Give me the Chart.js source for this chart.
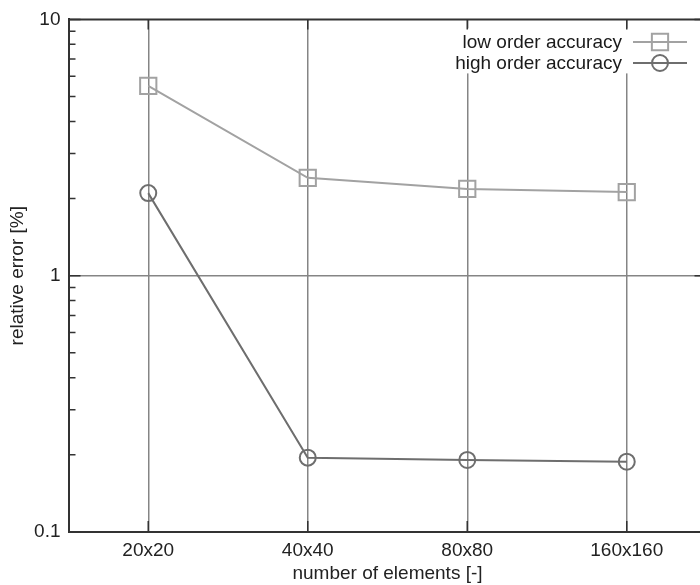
<!DOCTYPE html>
<html>
<head>
<meta charset="utf-8">
<script src="https://cdn.jsdelivr.net/npm/chart.js@4.4.0/dist/chart.umd.min.js"></script>
<style>
  html, body { margin: 0; padding: 0; background: #fff; overflow: hidden; width: 700px; height: 585px; }
  #wrap { position: relative; width: 720px; height: 585px; }
</style>
</head>
<body>
<div id="wrap"><canvas id="c" width="720" height="585"></canvas></div>
<script>
const categories = ['20x20', '40x40', '80x80', '160x160'];
const lowOrder = [5.5, 2.41, 2.18, 2.12];
const highOrder = [2.10, 0.195, 0.191, 0.188];
const seriesNames = ['low order accuracy', 'high order accuracy'];
const yDecades = [0.1, 1, 10];
const xTitle = 'number of elements [-]';
const yTitle = 'relative error [%]';

const FONT = "'Liberation Sans', Arial, Helvetica, sans-serif";
const FS = 19;
const AXIS = '#333333';
const GRID = '#858585';

// tick values: decades plus 2..9 minors
const yTickValues = [];
for (let i = 0; i < yDecades.length; i++) {
  yTickValues.push(yDecades[i]);
  if (i < yDecades.length - 1) {
    for (let m = 2; m <= 9; m++) yTickValues.push(+(yDecades[i] * m).toPrecision(3));
  }
}
const isDecade = v => yDecades.some(d => Math.abs(d - v) < 1e-9);

const framePlugin = {
  id: 'frame',
  afterDatasetsDraw(chart) {
    const ctx = chart.ctx;
    const a = chart.chartArea;
    // legend background
    ctx.save();
    ctx.fillStyle = '#ffffff';
    ctx.fillRect(455, a.top + 9, a.right - 455, 45);
    // legend entries
    ctx.font = FS + 'px ' + FONT;
    ctx.textAlign = 'right';
    ctx.textBaseline = 'middle';
    const rows = [42, 63];
    chart.data.datasets.forEach((ds, i) => {
      const y = rows[i];
      ctx.fillStyle = '#1a1a1a';
      ctx.fillText(ds.label, 622, y + 1);
      ctx.strokeStyle = ds.borderColor;
      ctx.lineWidth = ds.borderWidth;
      ctx.beginPath();
      ctx.moveTo(633, y);
      ctx.lineTo(687, y);
      ctx.stroke();
      ctx.lineWidth = ds.pointBorderWidth;
      ctx.fillStyle = 'rgba(0,0,0,0)';
      Chart.helpers.drawPoint(ctx, {pointStyle: ds.pointStyle, rotation: 0, radius: ds.pointRadius, borderWidth: ds.pointBorderWidth}, 660, y);
    });
    ctx.restore();
  },
  afterDraw(chart) {
    const ctx = chart.ctx;
    const a = chart.chartArea;
    const xs = chart.scales.x, ys = chart.scales.y;
    ctx.save();
    ctx.strokeStyle = AXIS;
    ctx.lineWidth = 2;
    // top & right border
    ctx.beginPath();
    ctx.moveTo(a.left, a.top);
    ctx.lineTo(a.right, a.top);
    ctx.lineTo(a.right, a.bottom);
    ctx.stroke();
    // x ticks inward, top & bottom
    ctx.lineWidth = 1.5;
    ctx.beginPath();
    for (let i = 0; i < categories.length; i++) {
      const px = xs.getPixelForValue(i);
      ctx.moveTo(px, a.bottom);
      ctx.lineTo(px, a.bottom - 11);
      ctx.moveTo(px, a.top);
      ctx.lineTo(px, a.top + 10);
    }
    // y ticks inward, left (all) & right (decades)
    yTickValues.forEach(v => {
      const py = ys.getPixelForValue(v);
      const dec = isDecade(v);
      const len = dec ? 12 : 7;
      ctx.moveTo(a.left, py);
      ctx.lineTo(a.left + len, py);
      if (dec) {
        ctx.moveTo(a.right, py);
        ctx.lineTo(a.right - len, py);
      }
    });
    ctx.stroke();
    ctx.restore();
  }
};

new Chart(document.getElementById('c'), {
  type: 'line',
  data: {
    labels: categories,
    datasets: [
      {
        label: seriesNames[0],
        data: lowOrder,
        borderColor: '#a2a2a2',
        borderWidth: 2,
        pointStyle: 'rect',
        pointRadius: 11.5,
        pointBorderWidth: 2,
        pointBorderColor: '#a2a2a2',
        pointBackgroundColor: 'rgba(0,0,0,0)',
        fill: false,
        tension: 0
      },
      {
        label: seriesNames[1],
        data: highOrder,
        borderColor: '#6e6e6e',
        borderWidth: 2,
        pointStyle: 'circle',
        pointRadius: 8,
        pointBorderWidth: 2,
        pointBorderColor: '#6e6e6e',
        pointBackgroundColor: 'rgba(0,0,0,0)',
        fill: false,
        tension: 0
      }
    ]
  },
  options: {
    responsive: false,
    animation: false,
    devicePixelRatio: 1,
    layout: { padding: { left: 0, top: 18, right: 11, bottom: 0 } },
    plugins: { legend: { display: false }, tooltip: { enabled: false } },
    scales: {
      x: {
        type: 'category',
        offset: true,
        afterFit: s => { s.height = 53; },
        grid: { offset: false, color: GRID, lineWidth: 1.5, drawTicks: false },
        border: { display: true, color: AXIS, width: 2 },
        ticks: { color: '#222', font: { family: FONT, size: FS }, padding: 7, maxRotation: 0 },
        title: { display: true, text: xTitle, color: '#222', font: { family: FONT, size: FS }, padding: { top: 0, bottom: 0 } }
      },
      y: {
        type: 'logarithmic',
        min: 0.1,
        max: 10,
        afterFit: s => { s.width = 68.5; },
        afterBuildTicks: s => { s.ticks = yTickValues.map(v => ({ value: v })); },
        grid: {
          drawTicks: false,
          lineWidth: 1.5,
          color: c => (c.tick && Math.abs(c.tick.value - 1) < 1e-9) ? GRID : 'rgba(0,0,0,0)'
        },
        border: { display: true, color: AXIS, width: 2 },
        ticks: {
          autoSkip: false,
          color: '#222',
          font: { family: FONT, size: FS },
          padding: 8,
          callback: v => isDecade(v) ? String(v) : ''
        },
        title: { display: true, text: yTitle, color: '#222', font: { family: FONT, size: FS }, padding: { top: 6, bottom: 0 } }
      }
    }
  },
  plugins: [framePlugin]
});
</script>
</body>
</html>
